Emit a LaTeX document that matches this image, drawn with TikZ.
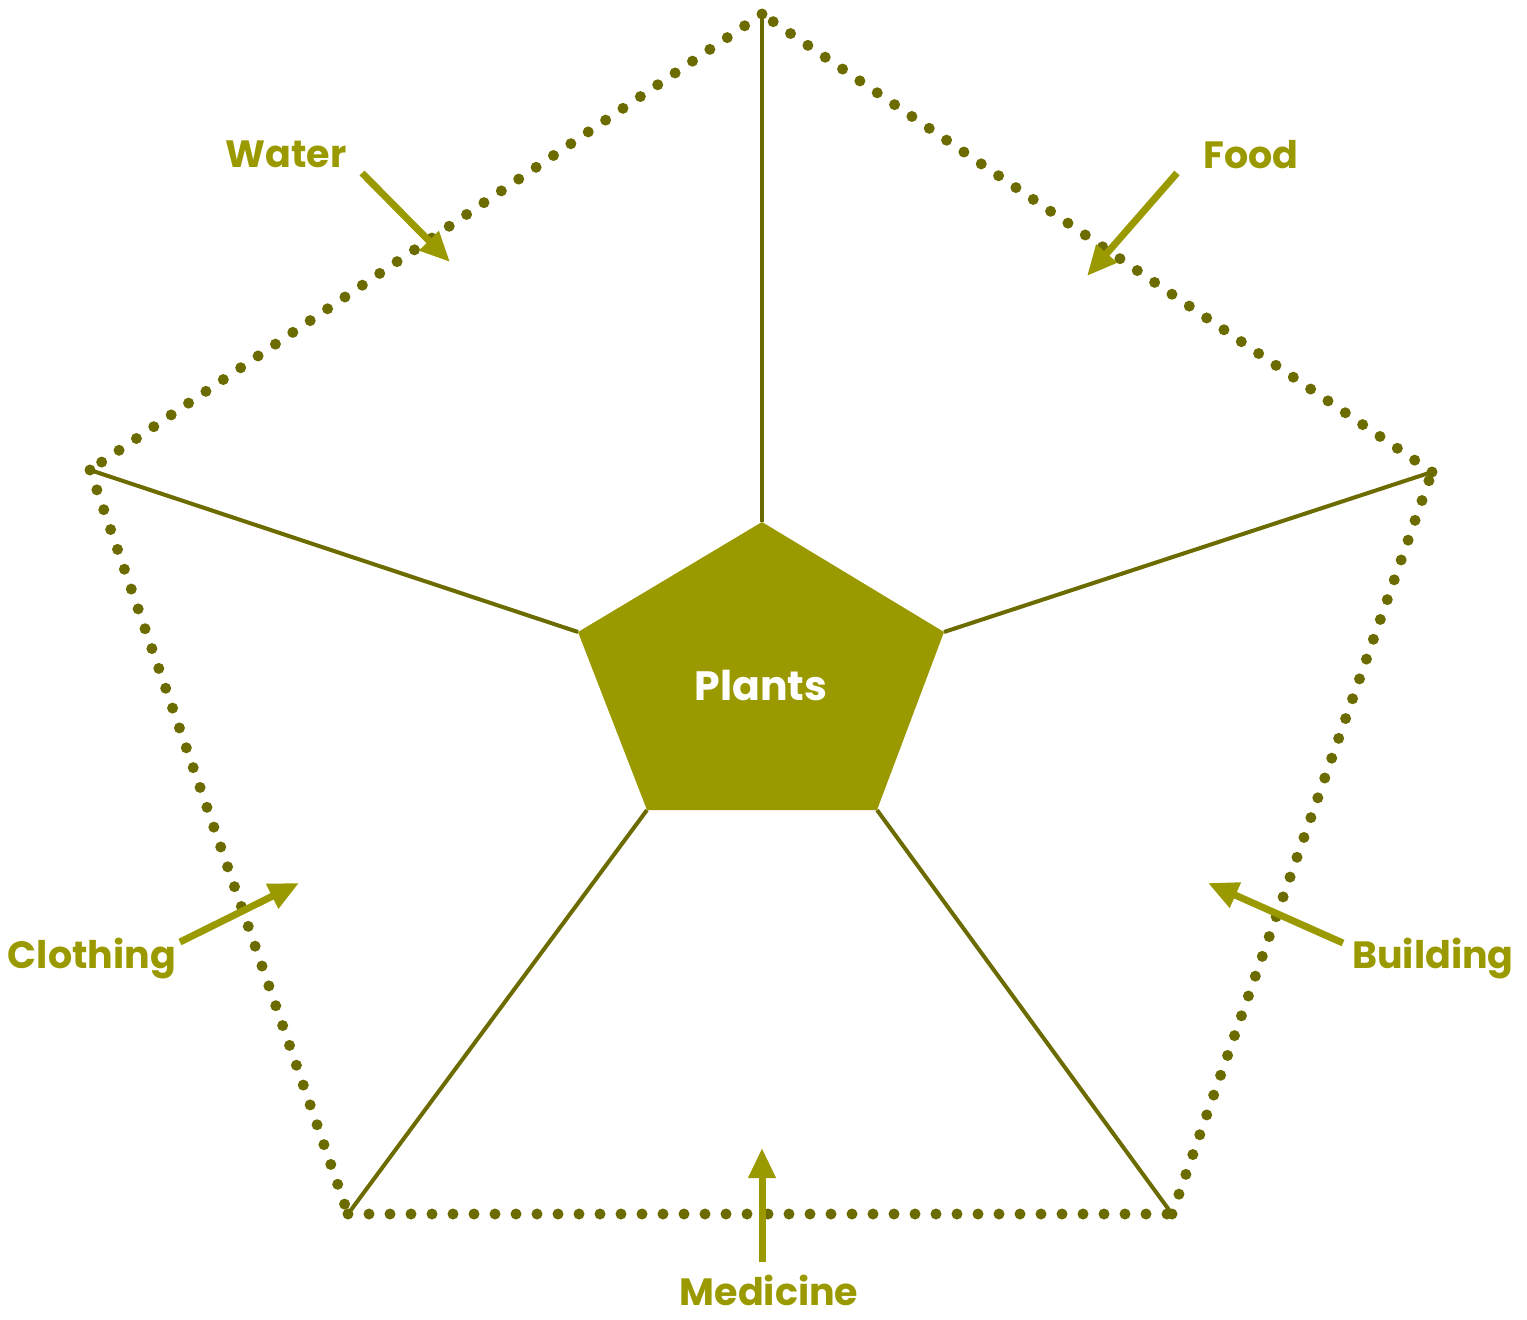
\documentclass[tikz,border=0pt]{standalone}
\usepackage{fontspec}
\newfontfamily\labfont{Poppins}
\usetikzlibrary{arrows.meta}
\definecolor{spoke}{HTML}{6B6B00}
\definecolor{olive}{HTML}{9A9A00}
\tikzset{
  spokeline/.style={draw=spoke, line width=4pt},
  dotline/.style={draw=spoke, line width=11pt, line cap=round, dash pattern=on 0pt off 21pt},
  pointer/.style={draw=olive, line width=7pt, -{Triangle[length=30pt,width=26pt]}},
  lab/.style={text=olive, font=\labfont\bfseries\fontsize{38}{42}\selectfont, inner sep=0pt, anchor=base},
}
\begin{document}
\begin{tikzpicture}[x=1pt,y=-1pt]
\useasboundingbox (0,0) rectangle (1527,1320);
% outer vertices
\coordinate (oT) at (762,14);
\coordinate (oL) at (90,470);
\coordinate (oR) at (1432,472);
\coordinate (oBL) at (348,1214);
\coordinate (oBR) at (1172,1214);
% inner vertices
\coordinate (iT) at (762,522);
\coordinate (iL) at (578,632);
\coordinate (iR) at (944,632);
\coordinate (iBL) at (647,810);
\coordinate (iBR) at (877,810);
% dotted outline
\draw[dotline] (oT) -- (oL);
\draw[dotline] (oL) -- (oBL);
\draw[dotline] (oBL) -- (oBR);
\draw[dotline] (oBR) -- (oR);
\draw[dotline] (oR) -- (oT);
% spokes
\draw[spokeline] (iT) -- (oT);
\draw[spokeline] (iL) -- (oL);
\draw[spokeline] (iR) -- (oR);
\draw[spokeline] (iBL) -- (oBL);
\draw[spokeline] (iBR) -- (oBR);
% central pentagon
\fill[olive] (iT) -- (iR) -- (iBR) -- (iBL) -- (iL) -- cycle;
\node[lab, text=white, font=\labfont\bfseries\fontsize{41}{45}\selectfont] (plants) at (761,700) {Plants};
% labels
\node[lab] (water) at (286,167) {Water};
\node[lab] (food) at (1251,168) {Food};
\node[lab] (clothing) at (92,968) {Clothing};
\node[lab] (building) at (1433,968) {Building};
\node[lab, text depth=0pt] (medicine) at (769,1305) {Medicine};
% arrow anchors
\coordinate (wS) at (362,173); \coordinate (wE) at (450,262);
\coordinate (fS) at (1177,173); \coordinate (fE) at (1087,276);
\coordinate (cS) at (180,942); \coordinate (cE) at (299,883);
\coordinate (bS) at (1343,943); \coordinate (bE) at (1208,883);
\coordinate (mS) at (762,1262); \coordinate (mE) at (762,1148);
\draw[pointer] (wS) -- (wE);
\draw[pointer] (fS) -- (fE);
\draw[pointer] (cS) -- (cE);
\draw[pointer] (bS) -- (bE);
\draw[pointer] (mS) -- (mE);
\end{tikzpicture}
\end{document}
